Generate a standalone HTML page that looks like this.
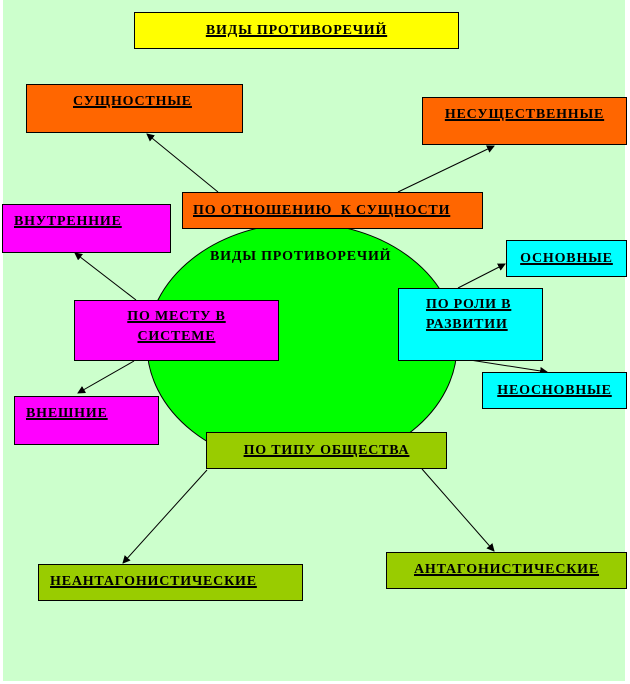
<!DOCTYPE html>
<html><head><meta charset="utf-8"><style>
body{margin:0;width:630px;height:684px;background:#fff;position:relative;overflow:hidden}
.bg{position:absolute;left:3px;top:0;width:622px;height:681px;background:#ccffcc}
.b{position:absolute;box-sizing:border-box;border:1px solid #000;font:bold 14px "Liberation Serif",serif;letter-spacing:0.8px;text-decoration:underline;text-decoration-thickness:2px;line-height:20px;color:#000;white-space:nowrap}
svg{position:absolute;left:0;top:0}
</style></head><body>
<div class="bg"></div>
<svg width="630" height="684">
<defs><marker id="a" markerWidth="8" markerHeight="8" refX="7" refY="4" orient="auto" markerUnits="userSpaceOnUse"><path d="M0,0 L8,4 L0,8 z" fill="#000"/></marker></defs>
<ellipse cx="302" cy="345" rx="155" ry="122" fill="#00ff00" stroke="#000" stroke-width="1"/>
<g stroke="#000" stroke-width="1" marker-end="url(#a)">
<line x1="218" y1="192" x2="147" y2="134"/>
<line x1="398" y1="192" x2="494" y2="146"/>
<line x1="136" y1="300" x2="75" y2="253"/>
<line x1="134" y1="361" x2="78" y2="393"/>
<line x1="458" y1="288" x2="505" y2="264"/>
<line x1="470" y1="360" x2="547" y2="372"/>
<line x1="207" y1="470" x2="123" y2="563"/>
<line x1="422" y1="469" x2="494" y2="551"/>
</g>
</svg>
<div class="b" style="left:134px;top:12px;width:325px;height:37px;background:#ffff00;text-align:center;padding-top:8px">ВИДЫ ПРОТИВОРЕЧИЙ</div>
<div class="b" style="left:26px;top:84px;width:217px;height:49px;background:#ff6600;padding:7px 0 0 46px">СУЩНОСТНЫЕ</div>
<div class="b" style="left:422px;top:97px;width:205px;height:48px;background:#ff6600;text-align:center;padding-top:7px">НЕСУЩЕСТВЕННЫЕ</div>
<div class="b" style="left:182px;top:192px;width:301px;height:37px;background:#ff6600;padding:8px 0 0 10px">ПО ОТНОШЕНИЮ&nbsp; К СУЩНОСТИ</div>
<div style="position:absolute;left:210px;top:249px;font:bold 14px 'Liberation Serif',serif;letter-spacing:0.8px">ВИДЫ ПРОТИВОРЕЧИЙ</div>
<div class="b" style="left:2px;top:204px;width:169px;height:49px;background:#ff00ff;padding:7px 0 0 11px">ВНУТРЕННИЕ</div>
<div class="b" style="left:74px;top:300px;width:205px;height:61px;background:#ff00ff;text-align:center;padding-top:6px">ПО МЕСТУ В<br>СИСТЕМЕ</div>
<div class="b" style="left:506px;top:240px;width:121px;height:37px;background:#00ffff;text-align:center;padding-top:8px">ОСНОВНЫЕ</div>
<div class="b" style="left:398px;top:288px;width:145px;height:73px;background:#00ffff;padding:6px 0 0 27px">ПО РОЛИ В<br>РАЗВИТИИ</div>
<div class="b" style="left:482px;top:372px;width:145px;height:37px;background:#00ffff;text-align:center;padding-top:8px">НЕОСНОВНЫЕ</div>
<div class="b" style="left:14px;top:396px;width:145px;height:49px;background:#ff00ff;padding:7px 0 0 11px">ВНЕШНИЕ</div>
<div class="b" style="left:206px;top:432px;width:241px;height:37px;background:#99cc00;text-align:center;padding-top:8px">ПО ТИПУ ОБЩЕСТВА</div>
<div class="b" style="left:38px;top:564px;width:265px;height:37px;background:#99cc00;padding:7px 0 0 11px">НЕАНТАГОНИСТИЧЕСКИЕ</div>
<div class="b" style="left:386px;top:552px;width:241px;height:37px;background:#99cc00;text-align:center;padding-top:7px">АНТАГОНИСТИЧЕСКИЕ</div>
</body></html>
